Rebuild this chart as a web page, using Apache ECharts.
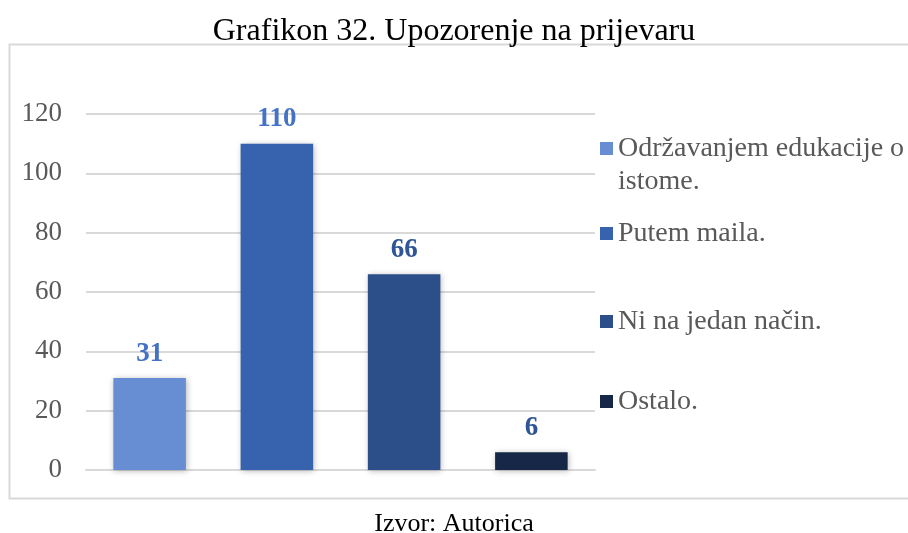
<!DOCTYPE html>
<html>
<head>
<meta charset="utf-8">
<script src="https://cdn.jsdelivr.net/npm/echarts@6/dist/echarts.min.js"></script>
<style>
  html, body { margin: 0; padding: 0; background: #ffffff; }
  #chart { width: 908px; height: 533px; }
</style>
</head>
<body>
<div id="chart"></div>
<script>
// Survey answers: how employees are warned about fraud
const categories = [
  'Održavanjem edukacije o istome.',
  'Putem maila.',
  'Ni na jedan način.',
  'Ostalo.'
];
const counts = [31, 110, 66, 6];
const yTicks = [0, 20, 40, 60, 80, 100, 120];

const barColors = ['#678DD2', '#3762AE', '#2C4E89', '#172747'];
const labelColors = ['#4472C4', '#4472C4', '#2F5597', '#2F5597'];
const legendCenters = [151, 236, 324, 404];

const serif = '"Liberation Serif", "DejaVu Serif", serif';
const LEGEND_LINE = 33;

// one series per answer so each gets its own legend entry; stacked so they share a slot
const series = categories.map((name, i) => ({
  name: name,
  type: 'bar',
  stack: 'answers',
  barWidth: '57%',
  data: categories.map((_, j) => (j === i ? counts[i] : null)),
  itemStyle: {
    color: barColors[i],
    shadowBlur: 6,
    shadowColor: 'rgba(0,0,0,0.28)',
    shadowOffsetX: 1,
    shadowOffsetY: 1
  },
  label: {
    show: true,
    position: 'top',
    distance: 11,
    fontFamily: serif,
    fontWeight: 'bold',
    fontSize: 27,
    color: labelColors[i]
  }
}));

// separate legend per item so the spacing follows the layout on the right;
// the wrapped entry gets an empty first row so its marker sits beside the first line
const legends = categories.map((name, i) => {
  const wrapped = i === 0;
  const text = wrapped
    ? '{s| }\n{a|Održavanjem edukacije o}\n{a|istome.}'
    : '{a|' + name + '}';
  const rows = wrapped ? 3 : 1;
  return {
    data: [name],
    left: 600,
    top: legendCenters[i] - (rows * LEGEND_LINE) / 2,
    padding: 0,
    itemWidth: 13,
    itemHeight: 13,
    itemGap: 0,
    icon: 'rect',
    selectedMode: false,
    formatter: () => text,
    textStyle: {
      fontFamily: serif,
      fontSize: 28,
      color: '#595959',
      rich: {
        s: { fontSize: 28, lineHeight: LEGEND_LINE },
        a: { fontFamily: serif, fontSize: 28, color: '#595959', lineHeight: LEGEND_LINE }
      }
    }
  };
});

const chart = echarts.init(document.getElementById('chart'), null, { renderer: 'canvas' });
chart.setOption({
  animation: false,
  backgroundColor: '#ffffff',
  title: [
    {
      text: 'Grafikon 32. Upozorenje na prijevaru',
      left: 'center',
      top: 11,
      textStyle: { fontFamily: serif, fontWeight: 'normal', fontSize: 32, color: '#000000' }
    },
    {
      text: 'Izvor: Autorica',
      left: 'center',
      top: 506,
      textStyle: { fontFamily: serif, fontWeight: 'normal', fontSize: 26, color: '#000000' }
    }
  ],
  graphic: [
    {
      type: 'rect',
      shape: { x: 9.5, y: 44.5, width: 920, height: 454 },
      style: { fill: 'none', stroke: '#d9d9d9', lineWidth: 2 },
      silent: true,
      z: -1
    }
  ],
  legend: legends,
  grid: { left: 86, right: 313, top: 114, bottom: 63, containLabel: false },
  xAxis: {
    type: 'category',
    data: categories,
    axisLine: { show: true, lineStyle: { color: '#d9d9d9', width: 2 } },
    axisTick: { show: false },
    axisLabel: { show: false }
  },
  yAxis: {
    type: 'value',
    min: yTicks[0],
    max: yTicks[yTicks.length - 1],
    interval: yTicks[1] - yTicks[0],
    axisLine: { show: false },
    axisTick: { show: false },
    splitLine: { lineStyle: { color: '#d9d9d9', width: 2 } },
    axisLabel: {
      margin: 24,
      fontFamily: serif,
      fontSize: 27,
      color: '#595959'
    }
  },
  series: series
});
</script>
</body>
</html>
